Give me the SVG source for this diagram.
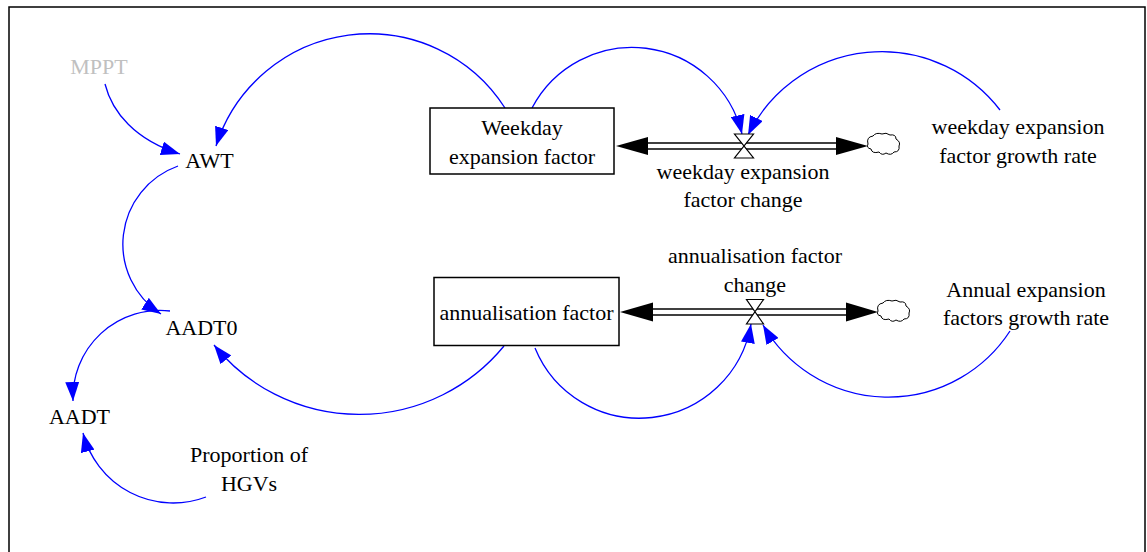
<svg xmlns="http://www.w3.org/2000/svg" width="1147" height="552" viewBox="0 0 1147 552">
<style>
.t{font-family:'Liberation Serif',Tinos,'Times New Roman',Times,'DejaVu Serif',serif;font-size:22px;fill:#000;text-anchor:middle}
.gray{fill:#c0c0c0}
.link{fill:none;stroke:#0000ff;stroke-width:1.3;marker-end:url(#ah)}
.stock{fill:#fff;stroke:#000;stroke-width:1.5}
.pipe{stroke:#000;stroke-width:1.5;fill:none}
.head{fill:#000}
.valve{fill:#fff;stroke:#000;stroke-width:1.2}
.cloud{fill:#fff;stroke:#000;stroke-width:1}
</style>
<defs>
<marker id="ah" markerUnits="userSpaceOnUse" markerWidth="19" markerHeight="14" refX="19" refY="7" orient="auto">
<path d="M0,0 L19,7 L0,14 z" fill="#0000ff"/>
</marker>
<path id="cloudshape" d="M0,0 Q-2,-7 5,-8 Q8,-12 14,-10 Q18,-12 22,-9 Q28,-10 28,-5 Q33,-2 31,2 Q32,8 26,8 Q23,12 18,9 Q14,12 11,8 Q4,10 3,5 Q-2,4 0,0 Z"/>
</defs>
<rect x="9" y="7" width="1136" height="570" fill="none" stroke="#000" stroke-width="1.5"/>

<g id="connectors">
<path class="link" d="M105,84 C112,112 135,140 180,154"/>
<path class="link" d="M505,108 A161,161 0 0 0 216,146"/>
<path class="link" d="M532,108 A113,113 0 0 1 742,134"/>
<path class="link" d="M1000,110 A149,149 0 0 0 748,135"/>
<path class="link" d="M178,166 A83,83 0 0 0 161,314"/>
<path class="link" d="M170,311 A87,87 0 0 0 73,401"/>
<path class="link" d="M206,497 A93,93 0 0 1 83,433"/>
<path class="link" d="M504,346 A187,187 0 0 1 214,345"/>
<path class="link" d="M535,348 A113,113 0 0 0 751,324"/>
<path class="link" d="M1010,331 A145,145 0 0 1 763,325"/>
</g>

<g id="flow-weekday">
<line class="pipe" x1="646" y1="143" x2="838" y2="143"/>
<line class="pipe" x1="646" y1="149" x2="838" y2="149"/>
<polygon class="head" points="616,146 648,137 648,155"/>
<polygon class="head" points="868,146 836,137 836,155"/>
<path class="valve" d="M734.5,134 H753.5 L734.5,158 H753.5 Z"/>
<use href="#cloudshape" class="cloud" x="868" y="144"/>
<text class="t" x="743" y="179" font-family="Liberation Serif">weekday expansion</text>
<text class="t" x="743" y="207" font-family="Liberation Serif">factor change</text>
</g>

<g id="flow-annual">
<line class="pipe" x1="651" y1="309" x2="849" y2="309"/>
<line class="pipe" x1="651" y1="315" x2="849" y2="315"/>
<polygon class="head" points="620,312 653,302.5 653,321.5"/>
<polygon class="head" points="878,312 846,302.5 846,321.5"/>
<path class="valve" d="M746.5,299.5 H763.5 L746.5,324 H763.5 Z"/>
<use href="#cloudshape" class="cloud" x="878" y="311"/>
<text class="t" x="755" y="263">annualisation factor</text>
<text class="t" x="755" y="292">change</text>
</g>

<g id="weekday-expansion-factor">
<rect class="stock" x="430" y="108" width="184" height="66"/>
<text class="t" x="522" y="135">Weekday</text>
<text class="t" x="522" y="164">expansion factor</text>
</g>

<g id="annualisation-factor">
<rect class="stock" x="434" y="277.5" width="185" height="68"/>
<text class="t" x="526.5" y="320">annualisation factor</text>
</g>

<g id="MPPT"><text class="t gray" x="99" y="74">MPPT</text></g>
<g id="AWT"><text class="t" x="209.5" y="168">AWT</text></g>
<g id="AADT0"><text class="t" x="201.5" y="335">AADT0</text></g>
<g id="AADT"><text class="t" x="79.5" y="424">AADT</text></g>
<g id="proportion-hgvs">
<text class="t" x="249" y="462">Proportion of</text>
<text class="t" x="249" y="491">HGVs</text>
</g>
<g id="weekday-growth-rate">
<text class="t" x="1018" y="134">weekday expansion</text>
<text class="t" x="1018" y="163">factor growth rate</text>
</g>
<g id="annual-growth-rate">
<text class="t" x="1026" y="297">Annual expansion</text>
<text class="t" x="1026" y="325">factors growth rate</text>
</g>
</svg>
